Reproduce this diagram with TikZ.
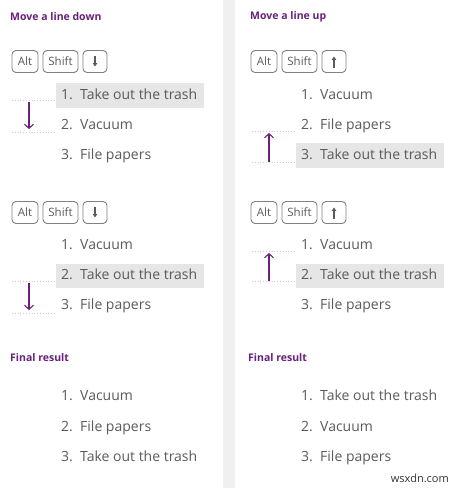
\documentclass[tikz,border=0pt]{standalone}
\usepackage{fontspec}
\setmainfont{Open Sans}
\usetikzlibrary{arrows.meta}

\definecolor{plum}{HTML}{68217A}
\definecolor{itemgray}{HTML}{5A5A5A}
\definecolor{keygray}{HTML}{808080}
\definecolor{hlgray}{HTML}{E6E6E6}
\definecolor{bandgray}{HTML}{F0F0F0}

\newcommand{\itm}[2]{\makebox[19pt][l]{#1}#2}

\begin{document}
\begin{tikzpicture}[x=1pt, y=-1pt,
  title/.style={font={\fontsize{10.5}{12}\selectfont\bfseries}, text=plum, anchor=west, inner sep=0},
  keybox/.style={draw=keygray, line width=0.9pt, rounded corners=4pt, minimum height=22pt, inner sep=0, text=itemgray, font={\fontsize{11.5}{13}\selectfont}},
  item/.style={font={\fontsize{14}{16}\selectfont}, text=itemgray, anchor=base west, inner sep=0},
  keyarrow/.style={draw=itemgray, line width=1.1pt, -{Triangle[length=3.5pt, width=4.5pt]}},
  movearrow/.style={draw=plum, line width=1.1pt, -{Straight Barb[length=4pt, width=9pt]}},
  guide/.style={draw=black!20, line width=0.8pt, dotted},
  hl/.style={fill=hlgray}]

\useasboundingbox (0,0) rectangle (461,488);
\fill[bandgray] (223,0) rectangle (235,488);

% left panel, move a line down
\node[title] (t1) at (10,17) {Move a line down};
\node[keybox, minimum width=26pt] (k1) at (25,61.5) {Alt};
\node[keybox, minimum width=35pt] (k2) at (60.5,61.5) {Shift};
\node[keybox, minimum width=24pt] (k3) at (95,61.5) {};
\draw[keyarrow] ([yshift=6pt]k3.center) -- ([yshift=-5pt]k3.center);

\fill[hl] (56,83) rectangle (204,108);
\coordinate (a1) at (12,100); \coordinate (a2) at (12,132);
\draw[guide] (a1) -- +(44,0);
\draw[guide] (a2) -- +(44,0);
\node[item] (r11) at (61,99) {\itm{1.}{Take out the trash}};
\node[item] (r12) at (61,129) {\itm{2.}{Vacuum}};
\node[item] (r13) at (61,159) {\itm{3.}{File papers}};
\draw[movearrow] ([xshift=17pt,yshift=-2pt]a1) -- ([xshift=17pt,yshift=3pt]a2);

\node[keybox, minimum width=26pt] (k4) at (25,212.5) {Alt};
\node[keybox, minimum width=35pt] (k5) at (60.5,212.5) {Shift};
\node[keybox, minimum width=24pt] (k6) at (95,212.5) {};
\draw[keyarrow] ([yshift=6pt]k6.center) -- ([yshift=-5pt]k6.center);

\fill[hl] (56,264) rectangle (204,288);
\coordinate (a3) at (12,281); \coordinate (a4) at (12,313);
\draw[guide] (a3) -- +(44,0);
\draw[guide] (a4) -- +(44,0);
\node[item] (r21) at (61,249) {\itm{1.}{Vacuum}};
\node[item] (r22) at (61,279) {\itm{2.}{Take out the trash}};
\node[item] (r23) at (61,309) {\itm{3.}{File papers}};
\draw[movearrow] ([xshift=17pt,yshift=-2pt]a3) -- ([xshift=17pt,yshift=3pt]a4);

\node[title] (t2) at (10,358) {Final result};
\node[item] (r31) at (61,400) {\itm{1.}{Vacuum}};
\node[item] (r32) at (61,431) {\itm{2.}{File papers}};
\node[item] (r33) at (61,461) {\itm{3.}{Take out the trash}};

% right panel, move a line up
\node[title] (t3) at (250,17) {Move a line up};
\node[keybox, minimum width=26pt] (k7) at (264,61.5) {Alt};
\node[keybox, minimum width=35pt] (k8) at (299.5,61.5) {Shift};
\node[keybox, minimum width=24pt] (k9) at (334,61.5) {};
\draw[keyarrow] ([yshift=-6pt]k9.center) -- ([yshift=5pt]k9.center);

\fill[hl] (296,143) rectangle (444,168);
\coordinate (b1) at (252,131); \coordinate (b2) at (252,162);
\draw[guide] (b1) -- +(44,0);
\draw[guide] (b2) -- +(44,0);
\node[item] (s11) at (301,99) {\itm{1.}{Vacuum}};
\node[item] (s12) at (301,129) {\itm{2.}{File papers}};
\node[item] (s13) at (301,159) {\itm{3.}{Take out the trash}};
\draw[movearrow] ([xshift=17pt]b2) -- ([xshift=17pt,yshift=-2pt]b1);

\node[keybox, minimum width=26pt] (k10) at (264,212.5) {Alt};
\node[keybox, minimum width=35pt] (k11) at (299.5,212.5) {Shift};
\node[keybox, minimum width=24pt] (k12) at (334,212.5) {};
\draw[keyarrow] ([yshift=-6pt]k12.center) -- ([yshift=5pt]k12.center);

\fill[hl] (296,264) rectangle (444,288);
\coordinate (b3) at (252,251); \coordinate (b4) at (252,281);
\draw[guide] (b3) -- +(44,0);
\draw[guide] (b4) -- +(44,0);
\node[item] (s21) at (301,249) {\itm{1.}{Vacuum}};
\node[item] (s22) at (301,279) {\itm{2.}{Take out the trash}};
\node[item] (s23) at (301,309) {\itm{3.}{File papers}};
\draw[movearrow] ([xshift=17pt]b4) -- ([xshift=17pt,yshift=-2pt]b3);

\node[title] (t4) at (248,358) {Final result};
\node[item] (s31) at (301,400) {\itm{1.}{Take out the trash}};
\node[item] (s32) at (301,431) {\itm{2.}{Vacuum}};
\node[item] (s33) at (301,461) {\itm{3.}{File papers}};

\node[font={\fontsize{11}{13}\selectfont}, text=black!80, anchor=east, inner sep=0] (wm) at (449,478) {wsxdn.com};

\end{tikzpicture}
\end{document}
